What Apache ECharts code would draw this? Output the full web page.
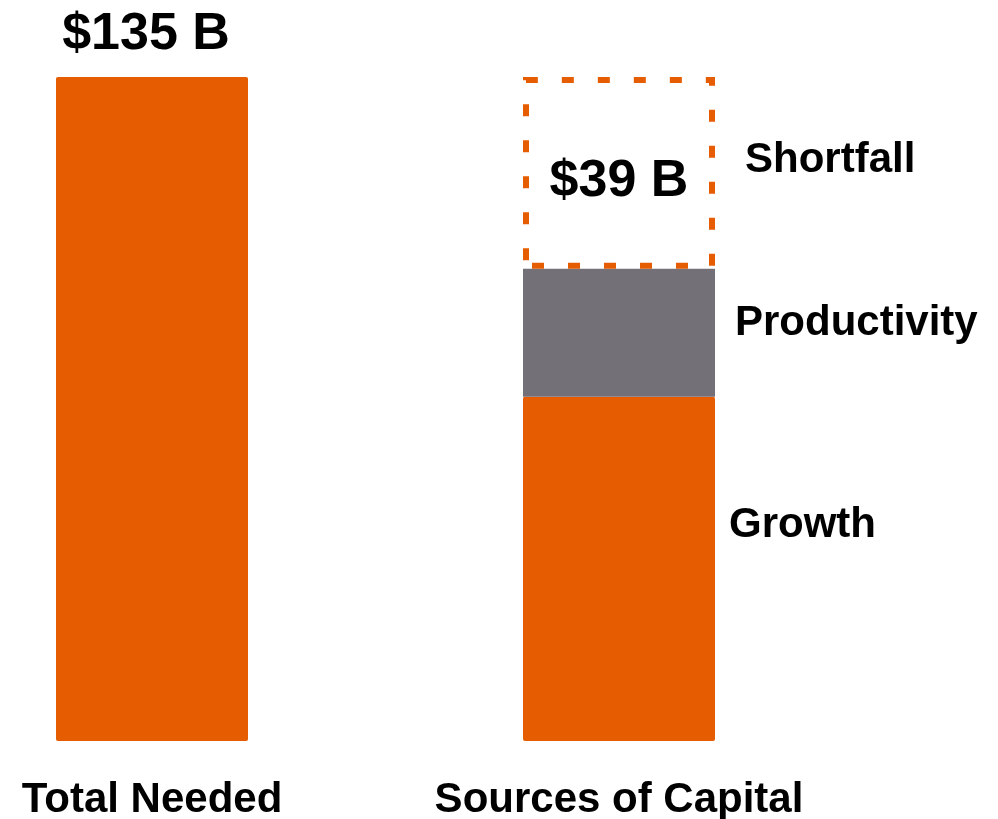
<!DOCTYPE html>
<html>
<head>
<meta charset="utf-8">
<script src="https://cdn.jsdelivr.net/npm/echarts@6/dist/echarts.min.js"></script>
<style>
  html, body { margin: 0; padding: 0; background: #fff; }
  #chart { width: 998px; height: 819px; }
</style>
</head>
<body>
<div id="chart"></div>
<script>
// 数据
var categories = ['Total Needed', 'Sources of Capital'];
var totalNeeded = [135, null];
var growth = [null, 70];
var productivity = [null, 26];
var shortfall = [null, 39];

var ORANGE = '#E65C00';
var GREY = '#737177';
var FONT = 'Liberation Sans, Arial, sans-serif';

// 名称标签（柱子右侧）
function sideLabel(dist, dy) {
    return {
        show: true,
        position: 'right',
        distance: dist,
        offset: [0, dy],
        formatter: '{a}',
        color: '#000',
        fontFamily: FONT,
        fontWeight: 'bold',
        fontSize: 42
    };
}

var chart = echarts.init(document.getElementById('chart'));

chart.setOption({
    animation: false,
    backgroundColor: '#fff',
    grid: {
        left: 152, right: 379, top: 77, bottom: 78,
        containLabel: false,
        outerBoundsMode: 'none'
    },
    xAxis: {
        type: 'category',
        data: categories,
        boundaryGap: false,
        axisLine: { show: false },
        axisTick: { show: false },
        axisLabel: {
            interval: 0,
            margin: 38,
            color: '#000',
            fontFamily: FONT,
            fontWeight: 'bold',
            fontSize: 42
        }
    },
    yAxis: {
        type: 'value',
        min: 0,
        max: 135,
        show: false,
        splitLine: { show: false }
    },
    series: [
        {
            name: 'Total Needed',
            type: 'bar',
            stack: 'a',
            clip: false,
            barWidth: 192,
            data: totalNeeded,
            itemStyle: { color: ORANGE, borderRadius: 2 },
            label: {
                show: true,
                position: 'top',
                distance: 16,
                offset: [-6, 0],
                formatter: function (p) { return '$' + p.value + ' B'; },
                color: '#000',
                fontFamily: FONT,
                fontWeight: 'bold',
                fontSize: 52
            }
        },
        {
            name: 'Growth',
            type: 'bar',
            stack: 'a',
            clip: false,
            barWidth: 192,
            data: growth,
            itemStyle: { color: ORANGE, borderRadius: 2 },
            label: sideLabel(14, -43)
        },
        {
            name: 'Productivity',
            type: 'bar',
            stack: 'a',
            clip: false,
            barWidth: 192,
            data: productivity,
            itemStyle: { color: GREY },
            label: sideLabel(20, -9)
        },
        {
            name: 'Shortfall',
            type: 'bar',
            stack: 'a',
            clip: false,
            barWidth: 192,
            data: shortfall,
            itemStyle: {
                color: 'rgba(255,255,255,0)',
                borderColor: ORANGE,
                borderWidth: 6,
                borderType: [12, 24],
                borderDashOffset: 30
            },
            label: sideLabel(30, -12),
            markPoint: {
                symbol: 'rect',
                symbolSize: 1,
                itemStyle: { color: 'rgba(0,0,0,0)' },
                data: [{
                    coord: [categories[1], growth[1] + productivity[1] + shortfall[1] / 2],
                    value: shortfall[1]
                }],
                label: {
                    show: true,
                    position: 'inside',
                    formatter: function (p) { return '$' + p.value + ' B'; },
                    color: '#000',
                    fontFamily: FONT,
                    fontWeight: 'bold',
                    fontSize: 52,
                    offset: [0, 9]
                }
            }
        }
    ]
});
</script>
</body>
</html>
